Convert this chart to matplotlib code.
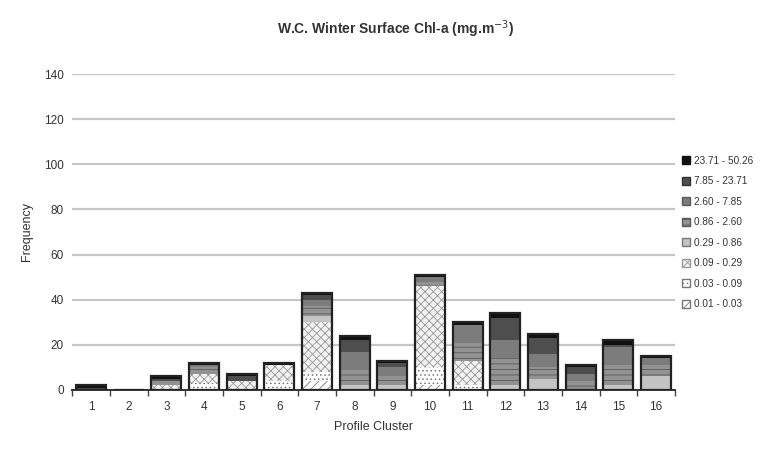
import numpy as np
import matplotlib
matplotlib.use("Agg")
import matplotlib.pyplot as plt
from matplotlib.patches import Patch

plt.rcParams["font.family"] = ["Liberation Sans", "DejaVu Sans"]
plt.rcParams["hatch.linewidth"] = 0.6

clusters = [str(i) for i in range(1, 17)]

# chl-a classes, lowest first (stack order)
classes = ["0.01 - 0.03", "0.03 - 0.09", "0.09 - 0.29", "0.29 - 0.86",
           "0.86 - 2.60", "2.60 - 7.85", "7.85 - 23.71", "23.71 - 50.26"]

c_001_003 = [0, 0, 0, 0, 0, 0, 4, 0, 0, 2, 0, 0, 0, 0, 0, 0]
c_003_009 = [0, 0, 0, 3, 0, 4, 4, 0, 0, 8, 2, 0, 0, 0, 0, 0]
c_009_029 = [0, 0, 2, 4, 4, 7, 22, 0, 0, 36, 11, 0, 0, 0, 0, 0]
c_029_086 = [0, 0, 0, 0, 0, 0, 3, 2, 2, 0, 0, 2, 5, 0, 2, 6]
c_086_260 = [0, 0, 2, 3, 0, 0, 4, 7, 4, 2, 8, 12, 5, 4, 9, 5]
c_260_785 = [0, 0, 0, 1, 0, 0, 3, 8, 4, 2, 8, 8, 6, 3, 8, 3]
c_785_2371 = [1, 0, 1, 0, 2, 0, 2, 5, 2, 0, 0, 10, 7, 3, 1, 0]
c_2371_5026 = [1, 0, 1, 1, 1, 1, 1, 2, 1, 1, 1, 2, 2, 1, 2, 1]

series = [c_001_003, c_003_009, c_009_029, c_029_086,
          c_086_260, c_260_785, c_785_2371, c_2371_5026]

# greyscale fills + hatches per class
fills = ["white", "white", "#f2f2f2", "#c4c4c4",
         "#929292", "#7c7c7c", "#4e4e4e", "#111111"]
hatches = ["////", "....", "xxxx", "", "---", "", "", ""]
hatch_cols = ["#777777", "#777777", "#999999", "#777777",
              "#5a5a5a", "#5a5a5a", "#333333", "#111111"]

fig = plt.figure(figsize=(7.6, 4.54), dpi=100)
ax = fig.add_axes([0.095, 0.141, 0.793, 0.696])

x = np.arange(len(clusters))
bottom = np.zeros(len(clusters))
for vals, fc, h, hc in zip(series, fills, hatches, hatch_cols):
    v = np.array(vals, dtype=float)
    ax.bar(x, v, width=0.8, bottom=bottom, color=fc, hatch=h,
           edgecolor=hc, linewidth=0, zorder=3)
    bottom += v

# black outline around each stacked column
ax.bar(x, bottom, width=0.8, fill=False, edgecolor="#222222",
       linewidth=1.6, zorder=4)

ax.set_ylim(0, 140)
ax.set_xlim(-0.5, len(clusters) - 0.5)
ax.set_yticks(range(0, 141, 20))
ax.set_yticklabels(["0", "20", "40", "60", "80", "100", "120", "140"])
ax.yaxis.grid(True, color="#c6c6c6", linewidth=1.6, zorder=0)
ax.tick_params(axis="y", length=0, labelsize=8.5, pad=6, colors="#333333")

ax.set_xticks(x)
ax.set_xticklabels(clusters)
ax.tick_params(axis="x", length=0, labelsize=8.5, pad=8, colors="#333333")
# small tick marks between clusters
ax.set_xticks(np.arange(-0.5, len(clusters)), minor=True)
ax.tick_params(axis="x", which="minor", length=4, width=1, color="#444444")

for s in ("top", "right", "left"):
    ax.spines[s].set_visible(False)
ax.spines["bottom"].set_color("#333333")
ax.spines["bottom"].set_linewidth(1.4)

ax.set_xlabel("Profile Cluster", fontsize=9, color="#333333", labelpad=6)
ax.set_ylabel("Frequency", fontsize=9, color="#333333", labelpad=8)
fig.text(0.52, 0.935, r"W.C. Winter Surface Chl-a (mg.m$^{-3}$)",
         ha="center", va="center", fontsize=10, fontweight="bold",
         color="#333333")

handles = [Patch(facecolor=fc, hatch=h, edgecolor=hc)
           for fc, h, hc in zip(fills, hatches, hatch_cols)][::-1]
leg = fig.legend(handles, classes[::-1], loc="upper left",
                 bbox_to_anchor=(0.898, 0.657), frameon=False,
                 fontsize=7.2, handlelength=0.8, handleheight=0.8,
                 handletextpad=0.35, labelspacing=1.05,
                 borderpad=0, borderaxespad=0)
for t in leg.get_texts():
    t.set_color("#333333")

fig.savefig("out.png", dpi=100)
